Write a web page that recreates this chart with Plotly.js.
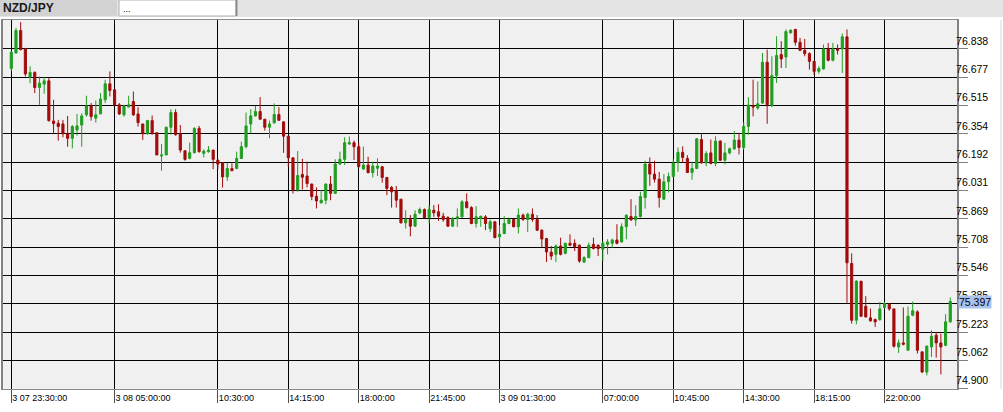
<!DOCTYPE html>
<html>
<head>
<meta charset="utf-8">
<script src="https://cdn.plot.ly/plotly-3.0.1.min.js"></script>
<style>
html,body{margin:0;padding:0;background:#fff;}
#chart{width:1003px;height:412px;}
</style>
</head>
<body>
<div id="chart"></div>
<script>
// 15-minute NZD/JPY bars, first bar 3/07 23:30
const startTime = "2025-03-07T23:30:00";
const barMinutes = 15;

const openPrices = [
76.727,76.815,76.943,76.838,76.677,76.704,76.618,76.637,76.656,76.427,
76.414,76.410,76.354,76.328,76.376,76.404,76.462,76.513,76.443,76.467,
76.548,76.639,76.605,76.519,76.462,76.506,76.538,76.467,76.410,76.354,
76.429,76.360,76.227,76.233,76.391,76.475,76.354,76.257,76.214,76.246,
76.385,76.242,76.252,76.261,76.204,76.189,76.108,76.156,76.156,76.213,
76.280,76.410,76.456,76.481,76.437,76.391,76.417,76.464,76.422,76.340,
76.217,76.034,76.122,76.113,76.067,75.998,75.960,75.975,76.067,76.014,
76.181,76.208,76.296,76.303,76.280,76.153,76.176,76.132,76.157,76.166,
76.105,76.048,76.029,75.981,75.846,75.865,75.827,75.903,75.922,75.876,
75.918,75.909,75.884,75.876,75.827,75.871,75.880,75.966,75.933,75.842,
75.871,75.880,75.813,75.852,75.766,75.785,75.842,75.865,75.823,75.890,
75.865,75.895,75.865,75.804,75.756,75.679,75.666,75.714,75.672,75.729,
75.729,75.718,75.622,75.647,75.723,75.718,75.695,75.723,75.729,75.748,
75.737,75.824,75.882,75.863,75.882,75.990,76.181,76.124,76.095,75.981,
76.080,76.110,76.190,76.248,76.213,76.133,76.156,76.321,76.188,76.245,
76.185,76.312,76.203,76.245,76.268,76.318,76.276,76.396,76.514,76.501,
76.529,76.762,76.514,76.686,76.806,76.792,76.930,76.949,76.876,76.830,
76.811,76.767,76.710,76.724,76.838,76.773,76.838,76.838,76.907,75.614,
75.290,75.513,75.370,75.304,75.294,75.294,75.363,75.382,75.355,75.138,
75.161,75.119,75.319,75.338,75.110,74.995,75.138,75.205,75.161,75.147,
75.281];

const highPrices = [
76.825,76.958,76.991,76.844,76.739,76.710,76.681,76.677,76.672,76.548,
76.433,76.433,76.456,76.404,76.467,76.471,76.571,76.529,76.544,76.586,
76.662,76.710,76.605,76.529,76.519,76.571,76.595,76.506,76.410,76.433,
76.458,76.362,76.296,76.395,76.494,76.494,76.404,76.257,76.303,76.391,
76.399,76.265,76.284,76.261,76.204,76.189,76.189,76.185,76.252,76.309,
76.475,76.494,76.513,76.563,76.437,76.429,76.527,76.506,76.423,76.340,
76.217,76.255,76.211,76.195,76.070,76.048,76.033,76.071,76.113,76.208,
76.252,76.334,76.338,76.315,76.303,76.280,76.223,76.195,76.214,76.170,
76.105,76.056,76.056,75.981,75.918,75.890,75.918,75.933,75.928,75.947,
75.947,75.952,75.903,75.884,75.880,75.928,75.975,76.014,75.941,75.941,
75.884,75.890,75.865,75.852,75.833,75.884,75.876,75.865,75.928,75.899,
75.903,75.928,75.890,75.809,75.760,75.714,75.723,75.761,75.733,75.780,
75.752,75.723,75.656,75.733,75.761,75.723,75.742,75.752,75.756,75.838,
75.843,75.895,75.981,75.946,76.023,76.200,76.219,76.200,76.137,76.124,
76.133,76.210,76.276,76.282,76.232,76.194,76.330,76.354,76.255,76.321,
76.340,76.318,76.302,76.276,76.369,76.360,76.420,76.563,76.663,76.653,
76.815,76.834,76.796,76.910,76.882,76.949,76.949,76.953,76.901,76.895,
76.819,76.767,76.739,76.863,76.872,76.872,76.863,76.926,76.949,75.672,
75.519,75.513,75.428,75.357,75.300,75.395,75.395,75.386,75.355,75.180,
75.363,75.368,75.397,75.347,75.110,75.147,75.233,75.224,75.214,75.325,
75.420];

const lowPrices = [
76.710,76.811,76.830,76.681,76.643,76.586,76.519,76.582,76.423,76.354,
76.315,76.334,76.280,76.271,76.343,76.280,76.452,76.429,76.418,76.467,
76.529,76.567,76.513,76.462,76.452,76.506,76.456,76.395,76.319,76.349,
76.349,76.233,76.143,76.233,76.349,76.343,76.246,76.200,76.208,76.242,
76.246,76.219,76.246,76.152,76.152,76.047,76.085,76.143,76.152,76.213,
76.271,76.357,76.452,76.437,76.372,76.328,76.410,76.429,76.245,76.166,
76.013,76.023,76.036,76.048,75.975,75.928,75.956,75.952,75.975,76.010,
76.176,76.176,76.290,76.204,76.162,76.147,76.128,76.105,76.113,76.075,
76.004,75.933,75.933,75.842,75.813,75.769,75.823,75.895,75.876,75.842,
75.880,75.857,75.852,75.823,75.823,75.823,75.876,75.928,75.838,75.819,
75.823,75.804,75.794,75.757,75.708,75.781,75.838,75.823,75.785,75.857,
75.794,75.852,75.800,75.708,75.622,75.634,75.622,75.660,75.666,75.714,
75.685,75.618,75.618,75.647,75.695,75.656,75.628,75.666,75.704,75.723,
75.733,75.752,75.857,75.828,75.876,75.927,76.057,76.076,75.933,75.977,
76.019,76.105,76.137,76.190,76.133,76.092,76.152,76.185,76.169,76.180,
76.169,76.198,76.179,76.236,76.262,76.236,76.262,76.348,76.453,76.491,
76.525,76.411,76.506,76.644,76.729,76.729,76.926,76.857,76.825,76.796,
76.720,76.691,76.697,76.720,76.767,76.767,76.806,76.701,75.390,75.271,
75.267,75.309,75.306,75.281,75.252,75.287,75.357,75.344,75.134,75.104,
75.147,75.119,75.313,75.100,74.989,74.976,75.081,75.077,74.982,75.142,
75.275];

const closePrices = [
76.819,76.943,76.834,76.695,76.704,76.618,76.643,76.656,76.429,76.412,
76.395,76.354,76.328,76.395,76.399,76.456,76.513,76.452,76.462,76.552,
76.639,76.601,76.519,76.467,76.513,76.519,76.462,76.418,76.354,76.429,
76.354,76.233,76.233,76.391,76.475,76.349,76.261,76.208,76.246,76.385,
76.252,76.255,76.261,76.208,76.181,76.108,76.156,76.143,76.213,76.280,
76.399,76.456,76.481,76.437,76.391,76.410,76.464,76.431,76.340,76.217,
76.034,76.116,76.106,76.070,75.996,75.971,75.975,76.067,76.014,76.181,
76.208,76.303,76.303,76.280,76.166,76.176,76.132,76.170,76.170,76.105,
76.042,76.023,75.975,75.846,75.865,75.827,75.895,75.922,75.876,75.922,
75.903,75.884,75.865,75.827,75.871,75.880,75.966,75.933,75.842,75.880,
75.884,75.842,75.852,75.762,75.781,75.842,75.865,75.823,75.890,75.865,
75.895,75.865,75.804,75.754,75.680,75.656,75.714,75.666,75.729,75.718,
75.710,75.628,75.647,75.718,75.699,75.699,75.729,75.737,75.748,75.729,
75.824,75.889,75.863,75.882,75.996,76.181,76.124,76.095,75.990,76.080,
76.110,76.187,76.248,76.219,76.133,76.156,76.325,76.188,76.241,76.185,
76.312,76.203,76.245,76.268,76.318,76.276,76.396,76.518,76.506,76.525,
76.762,76.520,76.686,76.800,76.781,76.937,76.945,76.876,76.830,76.811,
76.767,76.710,76.726,76.838,76.773,76.838,76.830,76.907,75.618,75.290,
75.513,75.313,75.309,75.287,75.281,75.355,75.386,75.355,75.142,75.161,
75.153,75.313,75.344,75.119,74.995,75.142,75.199,75.161,75.138,75.281,
75.397];

const priceTicks = [76.838,76.677,76.515,76.354,76.192,76.031,75.869,75.708,75.546,75.385,75.223,75.062,74.900];
const priceTickLabels = ["76.838","76.677","76.515","76.354","76.192","76.031","75.869","75.708","75.546","75.385","75.223","75.062","74.900"];
const timeTicks = ["2025-03-07 23:30","2025-03-08 05:00","2025-03-08 10:30","2025-03-08 14:15","2025-03-08 18:00","2025-03-08 21:45","2025-03-09 01:30","2025-03-09 07:00","2025-03-09 10:45","2025-03-09 14:30","2025-03-09 18:15","2025-03-09 22:00"];
const timeTickLabels = ["3 07 23:30:00","3 08 05:00:00","10:30:00","14:15:00","18:00:00","21:45:00","3 09 01:30:00","07:00:00","10:45:00","14:30:00","18:15:00","22:00:00"];
const symbol = "NZD/JPY";
const lastPrice = "75.397";

// bar times
function pad(n){return (n<10?"0":"")+n;}
const t0 = new Date(startTime + "Z").getTime();
const times = openPrices.map((_, i) => {
  const d = new Date(t0 + i * barMinutes * 60000);
  return d.getUTCFullYear()+"-"+pad(d.getUTCMonth()+1)+"-"+pad(d.getUTCDate())+" "+pad(d.getUTCHours())+":"+pad(d.getUTCMinutes());
});

const green = "#1f9e1f", red = "#a30b0b";
const trace = {
  type: "candlestick",
  x: times, open: openPrices, high: highPrices, low: lowPrices, close: closePrices,
  increasing: {line: {color: green, width: 1}, fillcolor: green},
  decreasing: {line: {color: red, width: 1}, fillcolor: red},
  whiskerwidth: 0,
  hoverinfo: "skip",
  showlegend: false
};

// pixel helpers for header in paper coords (plot area x 3..957, y 20..389)
const PX = X => (X - 3) / 954;
const PY = Y => (389 - Y) / 369;

const layout = {
  width: 1003, height: 412,
  margin: {l: 3, r: 46, t: 20, b: 23},
  paper_bgcolor: "#ffffff",
  plot_bgcolor: "#f0f0f0",
  boxgap: 0.35,
  showlegend: false,
  font: {family: "Liberation Sans, Arial, sans-serif", color: "#000"},
  xaxis: {
    type: "date",
    range: ["2025-03-07 23:03:30", "2025-03-10 01:51:30"],
    rangeslider: {visible: false},
    tickvals: timeTicks, ticktext: timeTickLabels,
    ticks: "outside", ticklen: 13, tickcolor: "#505050", tickwidth: 1,
    ticklabelposition: "outside right",
    tickfont: {size: 9, color: "#000"},
    showgrid: true, gridcolor: "#000000", gridwidth: 1,
    showline: true, linecolor: "#8a8a8a", linewidth: 1, mirror: true,
    zeroline: false, fixedrange: true
  },
  yaxis: {
    side: "right",
    range: [74.898, 77.003],
    tickvals: priceTicks, ticktext: priceTickLabels,
    ticks: "outside", ticklen: 9, tickcolor: "#808080", tickwidth: 1,
    ticklabelposition: "outside top",
    ticklabelstandoff: -5,
    tickfont: {size: 10.5, color: "#000"},
    showgrid: true, gridcolor: "#000000", gridwidth: 1,
    showline: true, linecolor: "#808080", linewidth: 2, mirror: true,
    zeroline: false, fixedrange: true
  },
  shapes: [
    {type: "rect", xref: "paper", yref: "paper", x0: PX(0), x1: PX(1003), y0: PY(17), y1: PY(0), fillcolor: "#e4e4e4", line: {width: 0}, layer: "above"},
    {type: "rect", xref: "paper", yref: "paper", x0: PX(0), x1: PX(117), y0: PY(16), y1: PY(0), fillcolor: "#d2d2d2", line: {width: 0}, layer: "above"},
    {type: "rect", xref: "paper", yref: "paper", x0: PX(119), x1: PX(236), y0: PY(16), y1: PY(0), fillcolor: "#ffffff", line: {color: "#b0b0b0", width: 1}, layer: "above"},
    {type: "line", xref: "paper", yref: "paper", x0: PX(236.5), x1: PX(236.5), y0: PY(16), y1: PY(0), line: {color: "#8c8c8c", width: 2}, layer: "above"},
    {type: "line", xref: "paper", yref: "paper", x0: PX(1001), x1: PX(1001), y0: PY(389), y1: PY(20), line: {color: "#d8d8d8", width: 1}, layer: "above"}
  ],
  annotations: [
    {xref: "paper", yref: "paper", x: PX(1), y: PY(8), xanchor: "left", yanchor: "middle", showarrow: false,
     text: "<b>" + symbol + "</b>", font: {size: 12, color: "#1a1a1a", family: "Liberation Sans, Arial, sans-serif"}},
    {xref: "paper", yref: "paper", x: PX(121), y: PY(9), xanchor: "left", yanchor: "middle", showarrow: false,
     text: "...", font: {size: 9, color: "#000"}},
    {xref: "paper", yref: "y", x: 1, y: +lastPrice, xanchor: "left", yanchor: "middle", xshift: 1, showarrow: false,
     text: lastPrice, bgcolor: "#a9c2ee", borderpad: 0, font: {size: 10.5, color: "#000"}}
  ]
};

Plotly.newPlot("chart", [trace], layout, {displayModeBar: false, staticPlot: true});
</script>
</body>
</html>
